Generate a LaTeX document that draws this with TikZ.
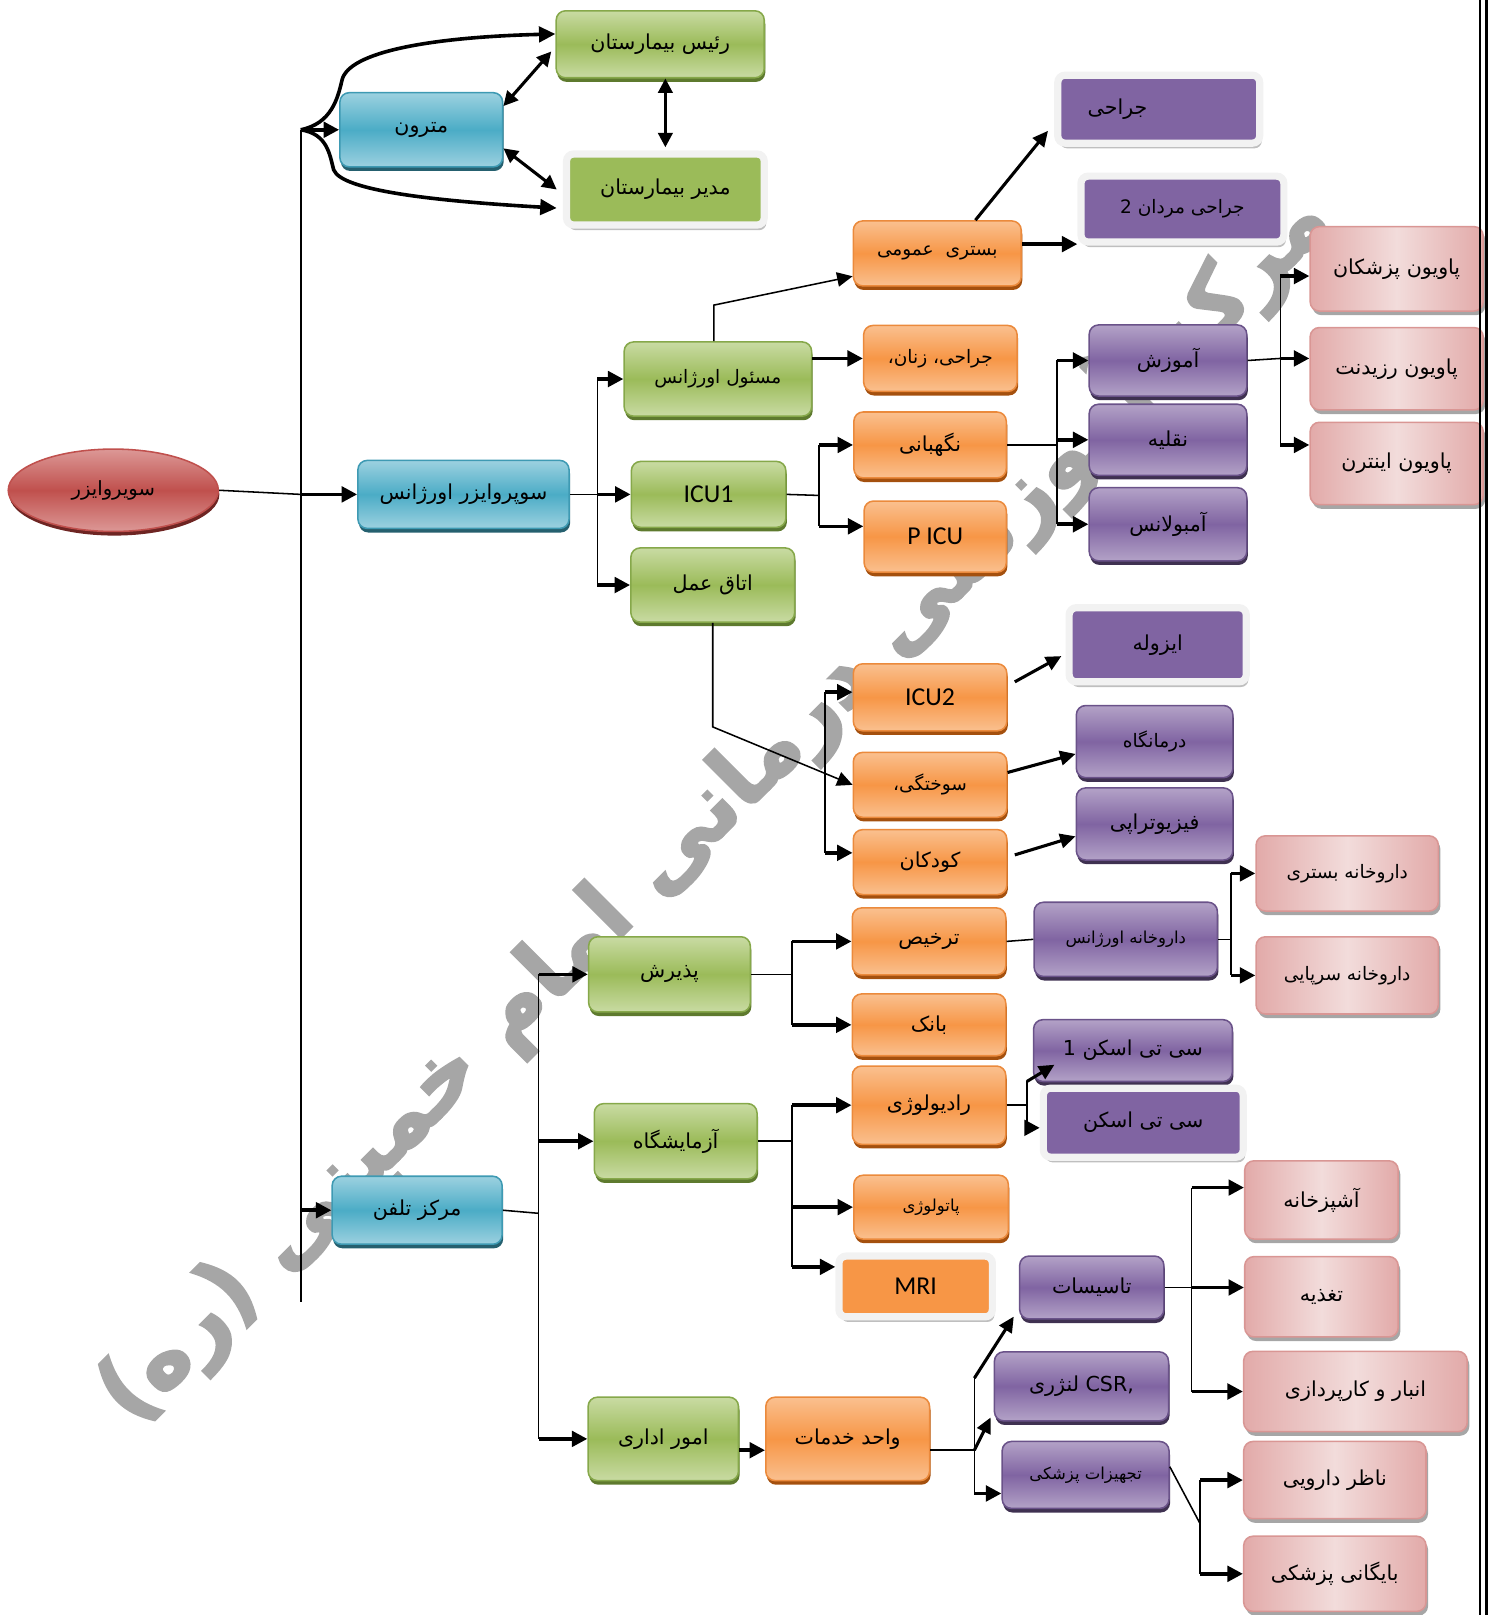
\documentclass[tikz,border=0pt]{standalone}
\usepackage{fontspec}
\newfontfamily\farsifont[Script=Arabic]{DejaVu Sans}
\newfontfamily\wmfont[Script=Arabic,FakeBold=2.5]{DejaVu Sans Bold}
\newfontfamily\latinfont{Carlito}
\TeXXeTstate=1
\usetikzlibrary{shapes.geometric,arrows.meta,shadows}

\definecolor{grnL}{HTML}{C9DBA3}
\definecolor{grnM}{HTML}{9BBB59}
\definecolor{grnB}{HTML}{86A84A}
\definecolor{grnS}{HTML}{5E7A2E}
\definecolor{bluL}{HTML}{9CD1E0}
\definecolor{bluM}{HTML}{4BACC6}
\definecolor{bluB}{HTML}{3E9AB3}
\definecolor{bluS}{HTML}{25606F}
\definecolor{orgL}{HTML}{FAC08F}
\definecolor{orgM}{HTML}{F79646}
\definecolor{orgB}{HTML}{EB8A3C}
\definecolor{orgS}{HTML}{A4500E}
\definecolor{purL}{HTML}{B3A2C7}
\definecolor{purM}{HTML}{8064A2}
\definecolor{purB}{HTML}{6A5289}
\definecolor{purS}{HTML}{3F3151}
\definecolor{pnkL}{HTML}{F2DCDB}
\definecolor{pnkM}{HTML}{E2AAA9}
\definecolor{pnkB}{HTML}{D99694}
\definecolor{redL}{HTML}{DC9896}
\definecolor{redM}{HTML}{C0504D}
\definecolor{redS}{HTML}{6E2523}
\definecolor{glowC}{HTML}{F2F2F2}
\definecolor{wmgray}{HTML}{A6A6A6}

\tikzset{
  box/.style={rounded corners=9pt, line width=1.5pt, align=center, inner sep=0pt,
    font=\farsifont\fontsize{20}{24}\selectfont},
  wh/.style 2 args={minimum width=#1pt, minimum height=#2pt},
  greenbox/.style={box, draw=grnB, top color=grnL, bottom color=grnL, middle color=grnM,
    drop shadow={shadow xshift=1pt, shadow yshift=-4pt, fill=grnS, opacity=1}},
  bluebox/.style={box, draw=bluB, top color=bluL, bottom color=bluL, middle color=bluM,
    drop shadow={shadow xshift=1pt, shadow yshift=-4pt, fill=bluS, opacity=1}},
  orangebox/.style={box, draw=orgB, top color=orgL, bottom color=orgL, middle color=orgM,
    drop shadow={shadow xshift=1pt, shadow yshift=-4pt, fill=orgS, opacity=1}},
  purplebox/.style={box, draw=purB, top color=purL, bottom color=purL, middle color=purM,
    drop shadow={shadow xshift=1pt, shadow yshift=-4pt, fill=purS, opacity=1}},
  pinkbox/.style={box, draw=pnkB, left color=pnkM, right color=pnkM, middle color=pnkL,
    drop shadow={shadow xshift=2pt, shadow yshift=-4pt, fill=black!35, opacity=1}},
  glowbox/.style={box, draw=glowC, line width=7pt, rounded corners=7pt, fill=#1,
    drop shadow={shadow xshift=2pt, shadow yshift=-5pt, fill=black!25, opacity=1}},
  redoval/.style={ellipse, draw=redM, line width=1.5pt, top color=redL, bottom color=redL,
    middle color=redM, inner sep=0pt, font=\farsifont\fontsize{19}{22}\selectfont,
    drop shadow={shadow xshift=1pt, shadow yshift=-4pt, fill=redS, opacity=1}},
  smalltext/.style={font=\farsifont\fontsize{18}{21}\selectfont},
  tinytext/.style={font=\farsifont\fontsize{16}{19}\selectfont},
  latintext/.style={font=\latinfont\fontsize{25}{28}\selectfont},
  watermark/.style={rotate=45, text=wmgray, font=\wmfont\fontsize{86}{94}\selectfont},
  wire/.style={line width=1.5pt},
  feedarrow/.style={line width=3.5pt, -{Triangle[length=15pt,width=15pt]}},
  thinarrow/.style={line width=1.5pt, -{Triangle[length=15pt,width=14pt]}},
  slant/.style={line width=3pt, -{Triangle[length=15pt,width=14pt]}},
  twoway/.style={line width=3pt, {Triangle[length=14pt,width=14pt]}-{Triangle[length=14pt,width=14pt]}},
  thickcurve/.style={line width=3.5pt, -{Triangle[length=16pt,width=15pt]}}
}

\begin{document}
\begin{tikzpicture}[x=1pt,y=-1pt]
\useasboundingbox (0,0) rectangle (1445,1568);

\node[watermark] (wm) at (690,780) {\beginR مرکز آموزشی درمانی امام خمینی (ره)\endR};

\node[redoval, wh={204}{80}] (sup) at (110,476) {\beginR سویروایزر\endR};
\node[bluebox, wh={158}{72}] (matron) at (409,126) {\beginR مترون\endR};
\node[greenbox, wh={202}{65}] (rais) at (641,43) {\beginR رئیس بیمارستان\endR};
\node[glowbox=grnM, wh={192}{69}] (modir) at (646,184) {\beginR مدیر بیمارستان\endR};
\node[bluebox, wh={205}{66}] (supu) at (450,480) {\beginR سوپروایزر اورژانس\endR};
\node[bluebox, wh={165}{66}] (tel) at (405,1175) {\beginR مرکز تلفن\endR};

\node[greenbox, wh={182}{72}, smalltext] (masool) at (697,368) {\beginR مسئول اورژانس\endR};
\node[greenbox, wh={150}{64}, latintext] (icu1) at (688,480) {ICU1};
\node[greenbox, wh={159}{72}] (otagh) at (692,568) {\beginR اتاق عمل\endR};

\node[orangebox, wh={163}{63}, smalltext] (bastari) at (910,246) {\beginR بستری\ \ عمومی\endR};
\node[glowbox=purM, wh={196}{66}] (jarahi) at (1125,106) {\beginR جراحی\endR\hspace*{80pt}};
\node[glowbox=purM, wh={197}{64}, smalltext] (mardan) at (1148,203) {\beginR جراحی مردان 2\endR};
\node[orangebox, wh={149}{64}, smalltext] (zanan) at (913,348) {\beginR جراحی، زنان،\endR};
\node[orangebox, wh={148}{64}] (negah) at (903,432) {\beginR نگهبانی\endR};
\node[orangebox, wh={138}{69}, latintext] (picu) at (908,521) {P ICU};

\node[purplebox, wh={153}{69}] (amoozesh) at (1134,350) {\beginR آموزش\endR};
\node[purplebox, wh={153}{69}] (naghlie) at (1134,427) {\beginR نقلیه\endR};
\node[purplebox, wh={153}{71}] (ambulance) at (1134,509) {\beginR آمبولانس\endR};

\node[pinkbox, wh={168}{82}] (pezeshkan) at (1356,261) {\beginR پاویون پزشکان\endR};
\node[pinkbox, wh={168}{80}] (rezident) at (1356,358) {\beginR پاویون رزیدنت\endR};
\node[pinkbox, wh={168}{80}] (intern) at (1356,450) {\beginR پاویون اینترن\endR};

\node[glowbox=purM, wh={172}{72}] (izole) at (1124,626) {\beginR ایزوله\endR};
\node[orangebox, wh={149}{65}, latintext] (icu2) at (903,677) {ICU2};
\node[purplebox, wh={152}{70}, smalltext] (darmangah) at (1121,720) {\beginR درمانگاه\endR};
\node[orangebox, wh={149}{63}, smalltext] (sookhtegi) at (903,762) {\beginR سوختگی،\endR};
\node[purplebox, wh={152}{70}] (fizio) at (1121,800) {\beginR فیزیوتراپی\endR};
\node[orangebox, wh={149}{63}] (koodakan) at (903,837) {\beginR کودکان\endR};

\node[pinkbox, wh={177}{73}, smalltext] (db) at (1308,848) {\beginR داروخانه بستری\endR};
\node[greenbox, wh={157}{73}] (paziresh) at (650,946) {\beginR پذیرش\endR};
\node[orangebox, wh={149}{65}] (tarkhis) at (902,914) {\beginR ترخیص\endR};
\node[purplebox, wh={178}{72}, tinytext] (du) at (1093,912) {\beginR داروخانه اورژانس\endR};
\node[pinkbox, wh={177}{75}, smalltext] (ds) at (1308,947) {\beginR داروخانه سرپایی\endR};
\node[orangebox, wh={149}{60}] (bank) at (902,995) {\beginR بانک\endR};

\node[purplebox, wh={193}{60}] (ct1) at (1100,1020) {\beginR سی تی اسکن 1\endR};
\node[orangebox, wh={149}{76}] (radio) at (902,1073) {\beginR رادیولوژی\endR};
\node[glowbox=purM, wh={194}{67}] (ct) at (1110,1090) {\beginR سی تی اسکن\endR};
\node[greenbox, wh={158}{73}] (azmayesh) at (656,1108) {\beginR آزمایشگاه\endR};
\node[orangebox, wh={150}{62}, tinytext] (pato) at (904,1172) {\beginR پاتولوژی\endR};
\node[glowbox=orgM, wh={149}{59}, latintext] (mri) at (889,1249) {MRI};

\node[purplebox, wh={140}{61}] (tasisat) at (1060,1250) {\beginR تاسیسات\endR};
\node[pinkbox, wh={149}{76}] (ashpaz) at (1283,1165) {\beginR آشپزخانه\endR};
\node[pinkbox, wh={149}{78}] (taghzie) at (1283,1259) {\beginR تغذیه\endR};
\node[pinkbox, wh={217}{78}] (anbar) at (1316,1351) {\beginR انبار و کارپردازی\endR};
\node[purplebox, wh={169}{67}] (csr) at (1050,1346) {\beginR\beginL CSR,\endL{} لنژری\endR};
\node[greenbox, wh={146}{81}] (omoor) at (644,1397) {\beginR امور اداری\endR};
\node[orangebox, wh={159}{81}] (khadamat) at (823,1397) {\beginR واحد خدمات\endR};
\node[purplebox, wh={162}{65}, tinytext] (tajhizat) at (1054,1432) {\beginR تجهیزات پزشکی\endR};
\node[pinkbox, wh={177}{75}] (nazer) at (1296,1437) {\beginR ناظر دارویی\endR};
\node[pinkbox, wh={177}{73}] (baygani) at (1296,1528) {\beginR بایگانی پزشکی\endR};

% trunk and top group
\coordinate (tr) at (292,126);
\coordinate (trend) at (292,1264);
\draw[wire] (tr) -- (trend);
\draw[feedarrow] (tr) -- (matron.west);
\draw[thickcurve] (tr) .. controls (322,120) and (328,95) .. (332,78) .. controls (338,50) and (420,36) .. ([yshift=10pt]rais.west);
\draw[thickcurve] (tr) .. controls (318,130) and (320,150) .. (324,165) .. controls (332,185) and (420,195) .. ([xshift=-6pt,yshift=-18pt]modir.west);
\draw[twoway] ([yshift=23pt]matron.east) -- ([xshift=-4pt,yshift=-7pt]rais.west);
\draw[twoway] ([yshift=-18pt]matron.east) -- ([xshift=-6pt]modir.west);
\draw[twoway] (rais.south -| modir.north) -- ([yshift=3pt]modir.north);

\draw[wire] (sup.east) -- (tr |- supu.west);
\draw[feedarrow] (tr |- supu.west) -- (supu.west);
\draw[feedarrow] (tr |- tel.west) -- (tel.west);

% urgency supervisor
\coordinate (bu) at (580,480);
\draw[wire] (supu.east) -- (bu);
\draw[wire] (bu |- masool.west) -- (bu |- otagh.west);
\draw[feedarrow] (bu |- masool.west) -- (masool.west);
\draw[feedarrow] (bu) -- (icu1.west);
\draw[feedarrow] (bu |- otagh.west) -- (otagh.west);

\draw[thinarrow] ([xshift=-4pt]masool.north) -- ++(0,-35) -- ([yshift=10pt]bastari.south west);
\draw[feedarrow] (masool.east |- zanan.west) -- (zanan.west);
\draw[slant] ([xshift=37pt]bastari.north) -- ([xshift=-6pt,yshift=-21pt]jarahi.west);
\coordinate (bm) at ([yshift=9pt]bastari.east);
\draw[feedarrow] (bm) -- (bm -| mardan.west);

\coordinate (bi) at (795,481);
\coordinate (pa) at ([yshift=10pt]picu.west);
\draw[wire] (icu1.east) -- (bi);
\draw[wire] (bi |- negah.west) -- (bi |- pa);
\draw[feedarrow] (bi |- negah.west) -- (negah.west);
\draw[feedarrow] (bi |- pa) -- (pa);

\coordinate (bn) at (1026,432);
\draw[wire] (negah.east) -- (bn);
\draw[wire] (bn |- amoozesh.west) -- (bn |- ambulance.west);
\draw[feedarrow] (bn |- amoozesh.west) -- (amoozesh.west);
\draw[feedarrow] (bn |- naghlie.west) -- (naghlie.west);
\draw[feedarrow] (bn |- ambulance.west) -- (ambulance.west);

\coordinate (ba) at (1243,348);
\coordinate (pz) at ([yshift=-7pt]pezeshkan.west);
\coordinate (rz) at ([yshift=10pt]rezident.west);
\coordinate (it) at ([yshift=18pt]intern.west);
\draw[wire] (amoozesh.east) -- (ba);
\draw[wire] (ba |- pz) -- (ba |- it);
\draw[feedarrow] (ba |- pz) -- (pz);
\draw[feedarrow] (ba |- rz) -- (rz);
\draw[feedarrow] (ba |- it) -- (it);

% operating room
\draw[thinarrow] (otagh.south) -- ++(0,101) -- (sookhtegi.west);
\coordinate (bo) at (801,700);
\coordinate (i2) at ([yshift=5pt]icu2.west);
\coordinate (kd) at ([yshift=9pt]koodakan.west);
\draw[wire] (bo |- i2) -- (bo |- kd);
\draw[feedarrow] (bo |- i2) -- (i2);
\draw[feedarrow] (bo |- kd) -- (kd);
\draw[slant] ([xshift=7pt,yshift=15pt]icu2.east) -- ([xshift=-4pt,yshift=-11pt]izole.west);
\draw[slant] ([yshift=12pt]sookhtegi.east) -- ([yshift=-12pt]darmangah.west);
\draw[slant] ([xshift=7pt,yshift=7pt]koodakan.east) -- ([yshift=-12pt]fizio.west);

% telephone centre
\coordinate (bt) at (523,1178);
\draw[wire] (tel.east) -- (bt);
\draw[wire] (bt |- paziresh.west) -- (bt |- omoor.west);
\draw[feedarrow] (bt |- paziresh.west) -- (paziresh.west);
\draw[feedarrow] (bt |- azmayesh.west) -- (azmayesh.west);
\draw[feedarrow] (bt |- omoor.west) -- (omoor.west);

\coordinate (bp) at (769,946);
\draw[wire] (paziresh.east) -- (bp);
\draw[wire] (bp |- tarkhis.west) -- (bp |- bank.west);
\draw[feedarrow] (bp |- tarkhis.west) -- (tarkhis.west);
\draw[feedarrow] (bp |- bank.west) -- (bank.west);
\draw[wire] (tarkhis.east) -- (du.west);

\coordinate (bd) at (1195,912);
\draw[wire] (du.east) -- (bd);
\draw[wire] (bd |- db.west) -- (bd |- ds.west);
\draw[feedarrow] (bd |- db.west) -- (db.west);
\draw[feedarrow] (bd |- ds.west) -- (ds.west);

\coordinate (bz) at (769,1108);
\coordinate (mr) at ([yshift=19pt]mri.west);
\draw[wire] (azmayesh.east) -- (bz);
\draw[wire] (bz |- radio.west) -- (bz |- mr);
\draw[feedarrow] (bz |- radio.west) -- (radio.west);
\draw[feedarrow] (bz |- pato.west) -- (pato.west);
\draw[feedarrow] (bz |- mr) -- (mr);

\coordinate (br) at (997,1073);
\coordinate (brt) at (997,1050);
\coordinate (brb) at (997,1095);
\draw[wire] (radio.east) -- (br);
\draw[wire] (brt) -- (brb);
\draw[slant] (brt) -- ([xshift=21pt,yshift=17pt]ct1.south west);
\draw[feedarrow] (brb) -- (brb -| ct.west);

\coordinate (ok) at ([yshift=-11pt]omoor.east);
\draw[feedarrow] (ok) -- (ok -| khadamat.west);

\coordinate (bk) at (946,1408);
\coordinate (bkt) at (946,1338);
\coordinate (bkb) at (946,1450);
\draw[wire] (bk -| khadamat.east) -- (bk);
\draw[wire] (bkt) -- (bkb);
\draw[slant] (bkt) -- ([xshift=-5pt,yshift=3pt]tasisat.south west);
\draw[slant] (bk) -- ([xshift=-3pt,yshift=4pt]csr.south west);
\draw[feedarrow] (bkb) -- (bkb -| tajhizat.west);

\coordinate (bs) at (1157,1250);
\coordinate (ap) at ([yshift=12pt]ashpaz.west);
\coordinate (tg) at ([yshift=9pt]taghzie.west);
\draw[wire] (tasisat.east) -- (bs);
\draw[wire] (bs |- ap) -- (bs |- anbar.west);
\draw[feedarrow] (bs |- ap) -- (ap);
\draw[feedarrow] (bs |- tg) -- (tg);
\draw[feedarrow] (bs |- anbar.west) -- (anbar.west);

\coordinate (bj) at (1165,1479);
\draw[wire] ([yshift=8pt]tajhizat.east) -- (bj);
\draw[wire] (bj |- nazer.west) -- (bj |- baygani.west);
\draw[feedarrow] (bj |- nazer.west) -- (nazer.west);
\draw[feedarrow] (bj |- baygani.west) -- (baygani.west);

% page edge
\draw[line width=2.5pt] (1437,0) -- (1437,1568);
\draw[line width=2.5pt] (1443,0) -- (1443,1568);
\end{tikzpicture}
\end{document}
